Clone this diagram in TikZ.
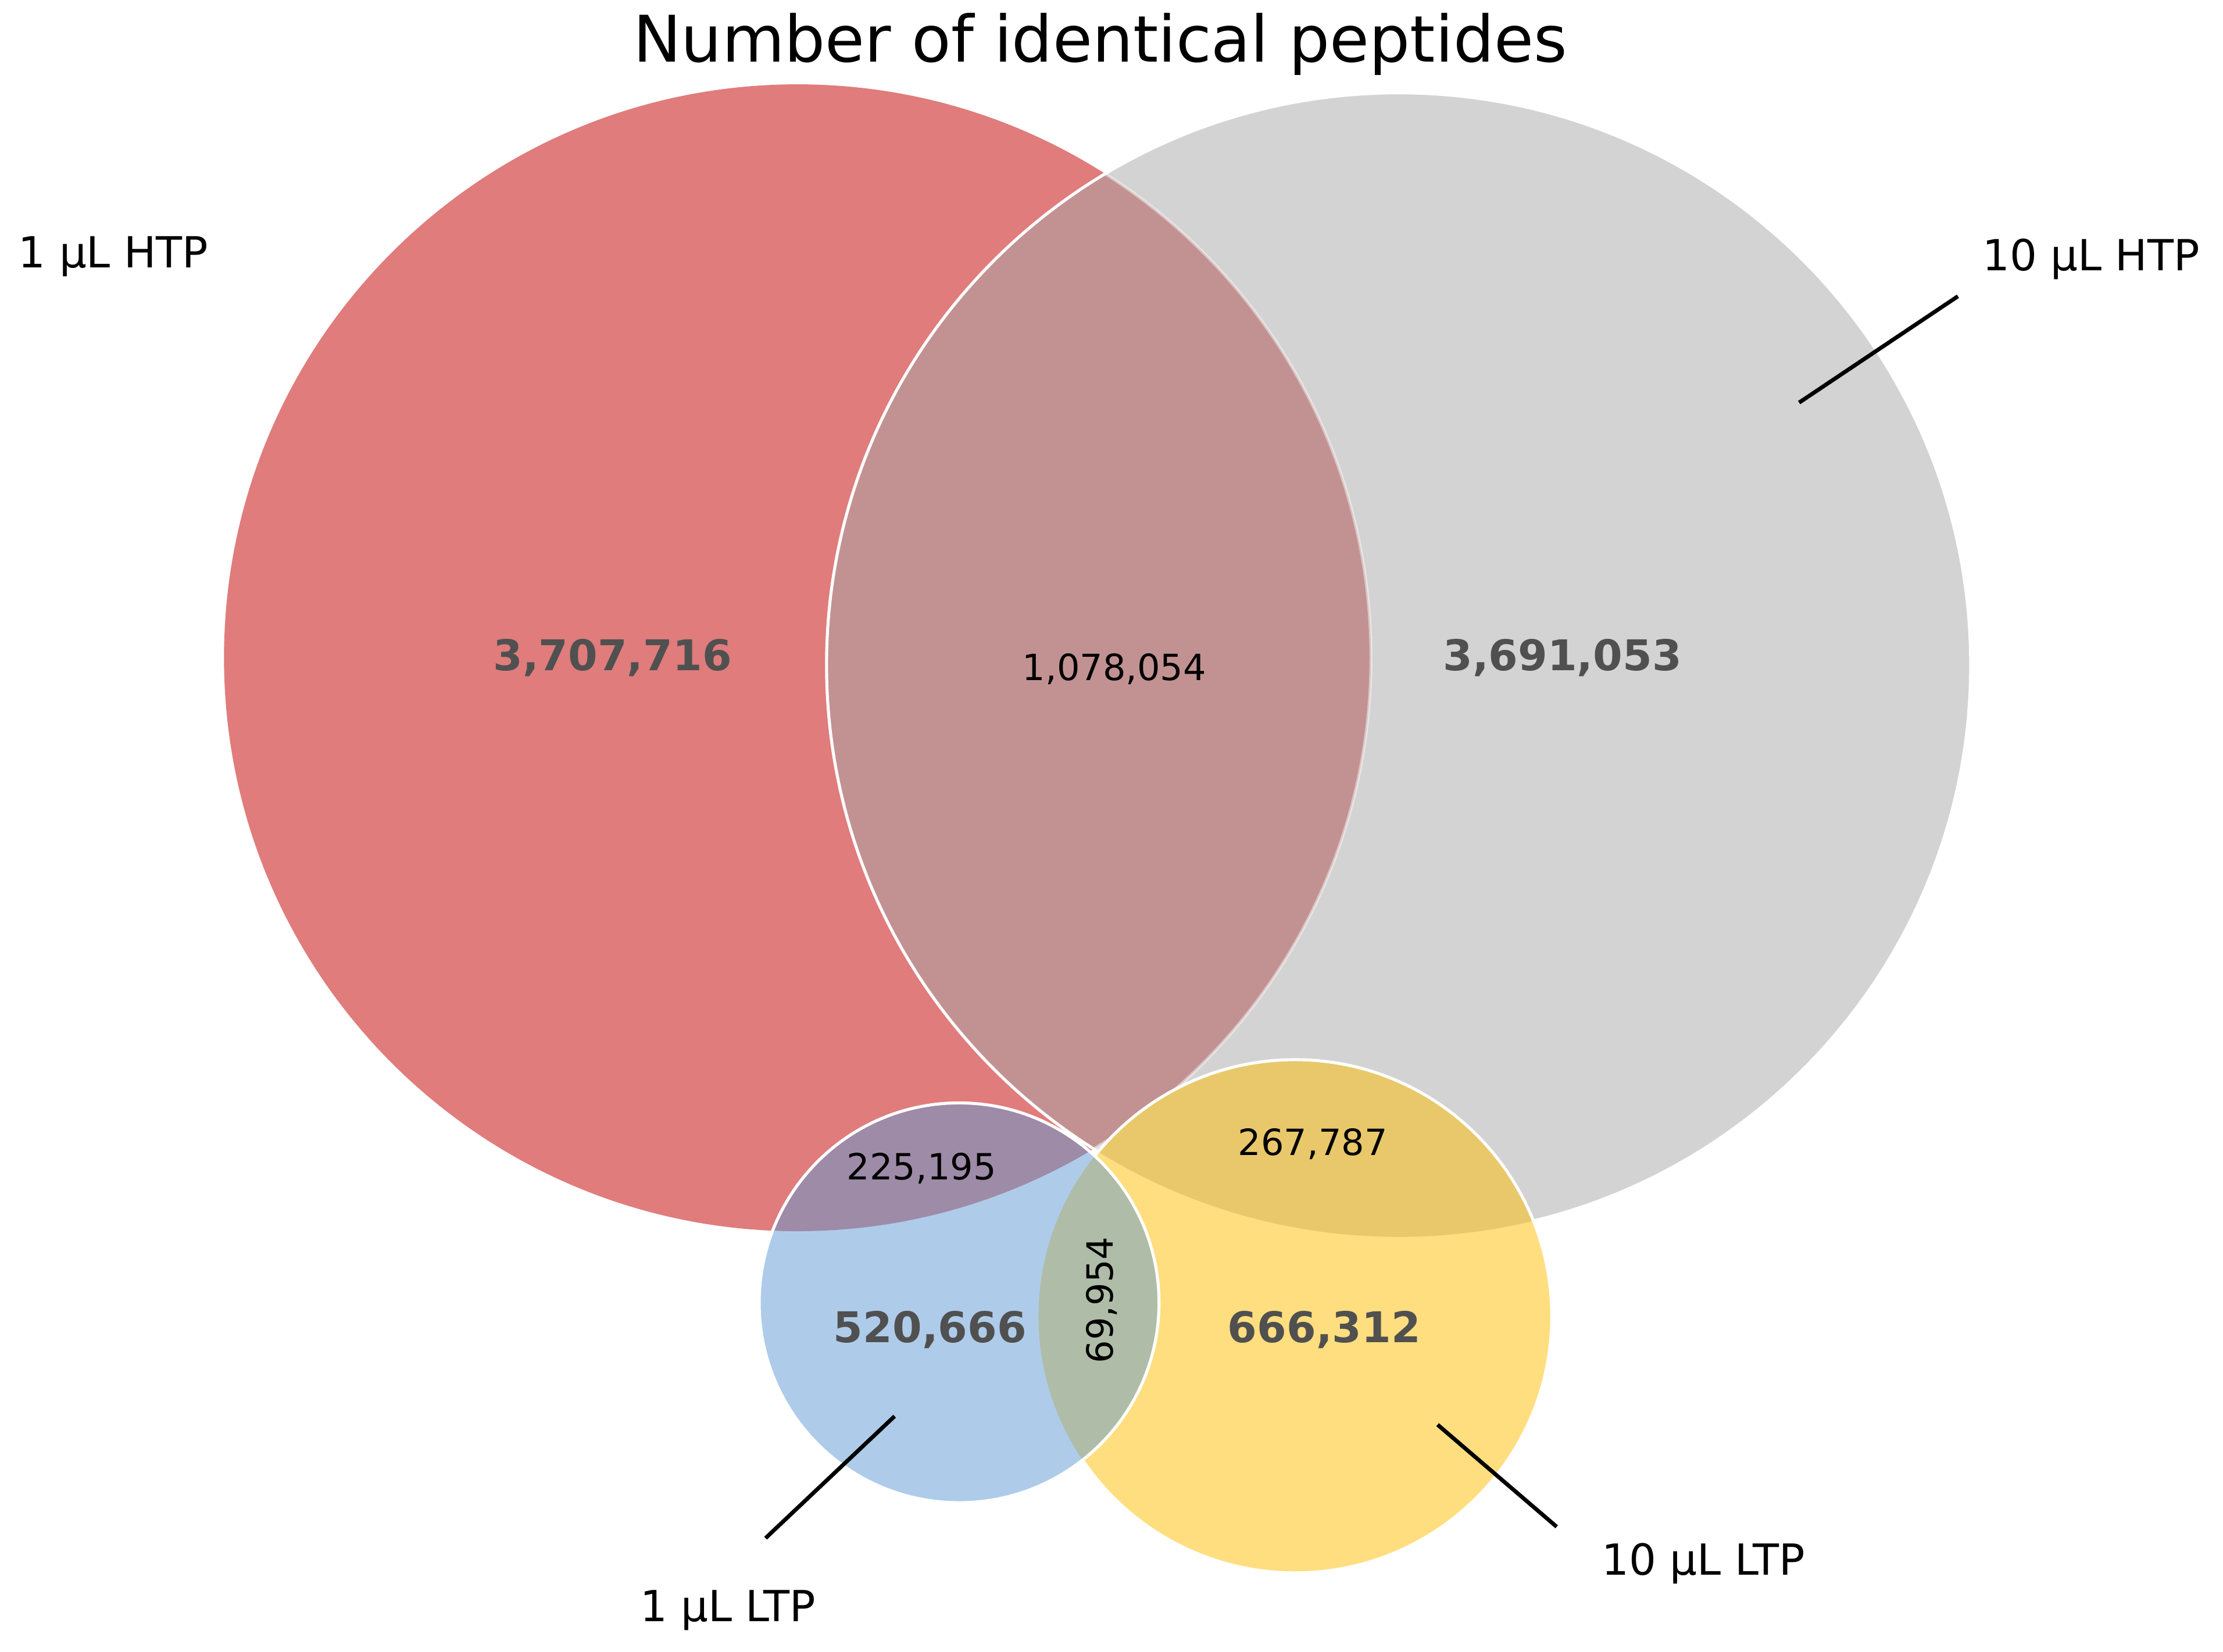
\documentclass[tikz,border=0pt]{standalone}
\usepackage{fontspec}
\setmainfont{DejaVu Sans}
\definecolor{cR}{HTML}{E07C7C}
\definecolor{cG}{HTML}{D3D3D3}
\definecolor{cB}{HTML}{AECCEA}
\definecolor{cY}{HTML}{FFDE7F}
\definecolor{cRG}{HTML}{C29293}
\definecolor{cRB}{HTML}{9E8BA8}
\definecolor{cGY}{HTML}{E8C86A}
\definecolor{cBY}{HTML}{AFBDA8}
\definecolor{numgray}{HTML}{505050}
\tikzset{
  setlabel/.style={font=\fontsize{17.2}{20}\selectfont, text=black, anchor=base, inner sep=0pt},
  bignum/.style={font=\fontsize{17}{20}\selectfont\bfseries, text=numgray, anchor=base, inner sep=0pt},
  smallnum/.style={font=\fontsize{14.5}{17}\selectfont, text=black, anchor=base, inner sep=0pt},
  rim/.style={draw=white, line width=1.2pt},
  pointer/.style={draw=black, line width=1.6pt},
}
\begin{document}
\begin{tikzpicture}[x=0.02cm, y=-0.02cm]
\useasboundingbox (0,0) rectangle (1568,1165);
\fill[white] (0,0) rectangle (1568,1165);
\def\Rc{(562.5,464) circle[radius=404.5]}
\def\Gc{(986.5,469) circle[radius=403.5]}
\def\Bc{(676.5,919) circle[radius=141]}
\def\Yc{(913.5,928.5) circle[radius=181]}
% red
\fill[cR] \Rc;
% grey
\fill[cG] \Gc;
\begin{scope}
  \clip \Rc;
  \fill[cRG] \Gc;
\end{scope}
\begin{scope}
  \clip \Gc;
  \draw[rim, draw opacity=0.45] \Rc;
\end{scope}
\draw[rim] \Gc;
% yellow
\fill[cY] \Yc;
\begin{scope}
  \clip \Gc;
  \fill[cGY] \Yc;
\end{scope}
\draw[rim] \Yc;
% blue
\fill[cB] \Bc;
\begin{scope}
  \clip \Rc;
  \fill[cRB] \Bc;
\end{scope}
\begin{scope}
  \clip \Yc;
  \fill[cBY] \Bc;
\end{scope}
\draw[rim] \Bc;

% title
\node[anchor=base, inner sep=0pt, font=\fontsize{25.8}{30}\selectfont] (title) at (776,43.5) {Number of identical peptides};

% set labels
\node[setlabel] (l1h) at (80,189) {1 µL HTP};
\node[setlabel] (l10h) at (1475,191) {10 µL HTP};
\node[setlabel] (l1l) at (513.5,1144) {1 µL LTP};
\node[setlabel] (l10l) at (1201.5,1111) {10 µL LTP};

% numbers
\node[bignum] (n1) at (432,473) {3,707,716};
\node[bignum] (n2) at (1102,473) {3,691,053};
\node[smallnum] (n3) at (786,480) {1,078,054};
\node[smallnum] (n4) at (650,832) {225,195};
\node[smallnum] (n5) at (926,815) {267,787};
\node[bignum] (n6) at (656,947) {520,666};
\node[bignum] (n7) at (934,947) {666,312};
\node[smallnum, anchor=center, rotate=90] (n8) at (777,917) {69,954};

% pointers
\coordinate (p10hA) at (1381,209);
\coordinate (p10hB) at (1269,284);
\coordinate (p1lA) at (631,999);
\coordinate (p1lB) at (540,1085);
\coordinate (p10lA) at (1014,1005);
\coordinate (p10lB) at (1098,1077);
\draw[pointer] (p10hA) -- (p10hB);
\draw[pointer] (p1lA) -- (p1lB);
\draw[pointer] (p10lA) -- (p10lB);
\end{tikzpicture}
\end{document}
